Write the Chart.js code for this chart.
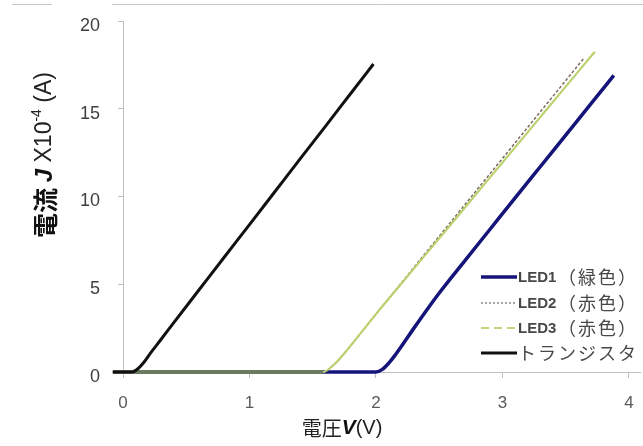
<!DOCTYPE html>
<html>
<head>
<meta charset="utf-8">
<script src="https://cdn.jsdelivr.net/npm/chart.js@4/dist/chart.umd.min.js"></script>
<style>
  html, body { margin: 0; padding: 0; background: #fff; }
  #wrap { width: 643px; height: 446px; }
</style>
</head>
<body>
<div id="wrap"><canvas id="iv-chart"></canvas></div>
<script>
// voltage (V) / current (x10^-4 A)
var led1V = [-0.08, 2.0, 2.05, 2.1, 2.15, 2.2, 2.3, 2.4, 2.5, 2.7, 2.9, 3.1, 3.3, 3.5, 3.7, 3.88];
var led1J = [0, 0, 0.15, 0.5, 0.95, 1.45, 2.5, 3.52, 4.5, 6.32, 8.12, 9.92, 11.71, 13.5, 15.29, 16.9];

var led2V = [-0.08, 1.58, 1.65, 1.7, 1.8, 1.9, 2.0, 2.2, 2.4, 2.6, 2.8, 3.0, 3.2, 3.4, 3.64];
var led2J = [0, 0, 0.3, 0.65, 1.5, 2.4, 3.3, 5.07, 6.85, 8.62, 10.4, 12.17, 13.95, 15.72, 17.85];

var led3V = [-0.08, 1.58, 1.65, 1.7, 1.8, 1.9, 2.0, 2.2, 2.4, 2.6, 2.8, 3.0, 3.2, 3.4, 3.6, 3.73];
var led3J = [0, 0, 0.3, 0.65, 1.5, 2.4, 3.3, 5.03, 6.76, 8.48, 10.21, 11.94, 13.67, 15.4, 17.13, 18.25];

var trV = [-0.08, 0.07, 0.12, 0.17, 0.22, 0.3, 0.4, 0.6, 0.8, 1.0, 1.2, 1.4, 1.6, 1.8, 1.98];
var trJ = [0, 0, 0.2, 0.6, 1.1, 1.85, 2.8, 4.67, 6.54, 8.4, 10.27, 12.14, 14.0, 15.87, 17.55];

var xTicks = [0, 1, 2, 3, 4];
var ledNames = ['LED1', 'LED2', 'LED3', ''];
var ledColours = ['（緑色）', '（赤色）', '（赤色）', 'トランジスタ'];

function pts(xs, ys) {
    return xs.map(function (x, i) { return {x: x, y: ys[i]}; });
}

var jp = '"Noto Sans CJK JP", "Liberation Sans", sans-serif';
var sans = '"Liberation Sans", "DejaVu Sans", sans-serif';

// legend key samples (the key shows dashes where the plotted line looks solid)
var legendStyle = [
    {color: '#14147a', width: 3.5, dash: []},
    {color: '#8a8a8a', width: 1.5, dash: [2, 2]},
    {color: '#c3d77a', width: 2, dash: [8, 5]},
    {color: '#111111', width: 3, dash: []}
];

// where all the LED curves sit on top of each other at J = 0 they read as one thick grey-green line
function flatSeg(val) {
    return function (c) {
        return (c.p0.parsed.y === 0 && c.p1.parsed.y === 0) ? val : undefined;
    };
}

var extras = {
    id: 'extras',
    beforeDraw: function (chart) {
        var ctx = chart.ctx;
        ctx.save();
        ctx.fillStyle = '#fff';
        ctx.fillRect(0, 0, chart.width, chart.height);
        // thin border line along the top of the scan
        ctx.strokeStyle = '#c8c8c8';
        ctx.lineWidth = 1;
        ctx.beginPath();
        ctx.moveTo(12, 4.5); ctx.lineTo(52, 4.5);
        ctx.moveTo(112, 4.5); ctx.lineTo(643, 4.5);
        ctx.stroke();
        ctx.restore();
    },
    beforeDatasetsDraw: function (chart) {
        var ctx = chart.ctx;
        var xs = chart.scales.x, ys = chart.scales.y;
        // axis line continues a little left of V = 0
        ctx.save();
        ctx.strokeStyle = '#c0c0c0';
        ctx.lineWidth = 1;
        ctx.beginPath();
        var y0 = Math.round(ys.getPixelForValue(0)) + 0.5;
        ctx.moveTo(xs.getPixelForValue(-0.08), y0);
        ctx.lineTo(xs.left, y0);
        ctx.stroke();
        ctx.restore();
    },
    afterDraw: function (chart) {
        var ctx = chart.ctx;
        ctx.save();
        ctx.textBaseline = 'middle';

        // y title
        var ySeg = [
            {t: '電流 ', f: 'bold 25px ' + jp, c: '#111', dy: 0},
            {t: 'J', f: 'italic bold 24px ' + sans, c: '#111', dy: 0},
            {t: ' X10', f: '23px ' + sans, c: '#222', dy: 0},
            {t: '-4', f: '14px ' + sans, c: '#222', dy: -8},
            {t: ' (A)', f: '23px ' + sans, c: '#222', dy: 0}
        ];
        ctx.save();
        ctx.translate(45, 155);
        ctx.rotate(-Math.PI / 2);
        drawSegs(ctx, ySeg);
        ctx.restore();

        // x title
        var xSeg = [
            {t: '電圧', f: '20px ' + jp, c: '#222', dy: 0},
            {t: 'V', f: 'italic bold 21px ' + sans, c: '#111', dy: 0},
            {t: '(V)', f: '20px ' + sans, c: '#222', dy: 0}
        ];
        ctx.save();
        ctx.translate(342, 428);
        drawSegs(ctx, xSeg);
        ctx.restore();

        // legend
        var ly = [277, 303, 328, 353];
        ctx.textAlign = 'left';
        for (var i = 0; i < ledNames.length; i++) {
            var s = legendStyle[i];
            ctx.strokeStyle = s.color;
            ctx.lineWidth = s.width;
            ctx.setLineDash(s.dash);
            ctx.beginPath();
            ctx.moveTo(481, ly[i]);
            ctx.lineTo(517, ly[i]);
            ctx.stroke();
            ctx.setLineDash([]);
            ctx.fillStyle = '#484848';
            var x = 518;
            if (ledNames[i]) {
                ctx.font = 'bold 15px ' + sans;
                ctx.letterSpacing = '0px';
                ctx.fillText(ledNames[i], x, ly[i] + 1);
                x = 558;
            }
            ctx.font = '18px ' + jp;
            ctx.letterSpacing = '2px';
            ctx.fillText(ledColours[i], x, ly[i]);
            ctx.letterSpacing = '0px';
        }
        ctx.restore();
    }
};

function drawSegs(ctx, segs) {
    var total = 0;
    segs.forEach(function (s) { ctx.font = s.f; s.w = ctx.measureText(s.t).width; total += s.w; });
    var x = -total / 2;
    ctx.textAlign = 'left';
    segs.forEach(function (s) {
        ctx.font = s.f;
        ctx.fillStyle = s.c;
        ctx.fillText(s.t, x, s.dy);
        x += s.w;
    });
}

new Chart(document.getElementById('iv-chart').getContext('2d'), {
    type: 'line',
    data: {
        datasets: [{
            label: 'LED1（緑色）',
            data: pts(led1V, led1J),
            borderColor: '#14147a',
            borderWidth: 3.5,
            order: 4
        }, {
            label: 'LED2（赤色）',
            data: pts(led2V, led2J),
            borderColor: '#7d6a5c',
            borderWidth: 1.5,
            borderDash: [3, 2],
            order: 3
        }, {
            label: 'LED3（赤色）',
            data: pts(led3V, led3J),
            borderColor: '#bcd270',
            borderWidth: 2.2,
            segment: {borderColor: flatSeg('#6c7b60'), borderWidth: flatSeg(4)},
            order: 2
        }, {
            label: 'トランジスタ',
            data: pts(trV, trJ),
            borderColor: '#111111',
            borderWidth: 3,
            order: 1
        }]
    },
    options: {
        responsive: true,
        maintainAspectRatio: false,
        animation: false,
        parsing: false,
        layout: {padding: {left: 0, right: 3, top: 21, bottom: 0}},
        elements: {
            point: {radius: 0},
            line: {cubicInterpolationMode: 'monotone', fill: false}
        },
        datasets: {line: {clip: false}},
        plugins: {
            legend: {display: false},
            tooltip: {enabled: false}
        },
        scales: {
            x: {
                type: 'linear',
                min: 0,
                max: 4.087,
                afterBuildTicks: function (scale) {
                    scale.ticks = xTicks.map(function (v) { return {value: v}; });
                },
                afterFit: function (scale) {
                    scale.height = 74;
                    scale.paddingLeft = 0;
                    scale.paddingRight = 0;
                },
                ticks: {color: '#5a5a5a', font: {size: 17, family: sans}, padding: 15},
                grid: {drawOnChartArea: false, tickLength: 6, color: '#c0c0c0'},
                border: {color: '#c0c0c0', width: 1}
            },
            y: {
                min: 0,
                max: 20,
                afterFit: function (scale) {
                    scale.width = 123;
                    scale.paddingTop = 0;
                    scale.paddingBottom = 0;
                },
                ticks: {stepSize: 5, color: '#404040', font: {size: 18, family: sans}, padding: 18, labelOffset: 5},
                grid: {drawOnChartArea: false, tickLength: 5, color: '#c0c0c0'},
                border: {color: '#c0c0c0', width: 1}
            }
        }
    },
    plugins: [extras]
});
</script>
</body>
</html>
